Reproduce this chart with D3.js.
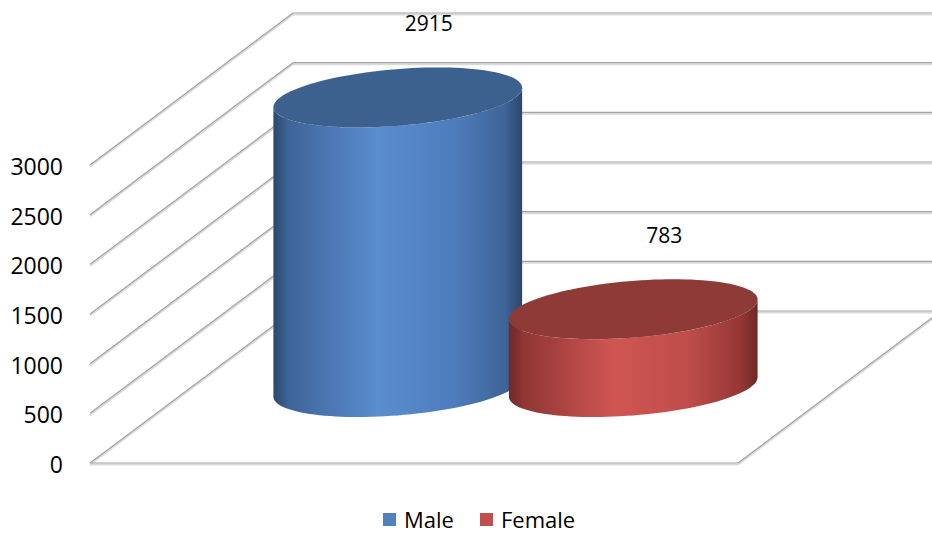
<!DOCTYPE html>
<html>
<head>
<meta charset="utf-8">
<script src="https://cdn.jsdelivr.net/npm/d3@7"></script>
<style>
  body { margin: 0; background: #fff; }
  svg { display: block; font-family: "Open Sans", "Noto Sans", sans-serif; }
</style>
</head>
<body>
<script>
// chart data
const series = ['Male', 'Female'];
const values = [2915, 783];
const yTicks = [0, 500, 1000, 1500, 2000, 2500, 3000];

const sideStops = [
  ['#2c476c', '#3e6499', '#5a8dcf', '#4e7dbc', '#3f6599', '#2b456a'],
  ['#6e2a29', '#903634', '#cf5552', '#bf4d4a', '#953735', '#6c2927']
];
const topColors = ['#3d618e', '#8e3a37'];
const legendColors = ['#4f81bd', '#c0504d'];

const W = 932, H = 533;
const svg = d3.select('body').append('svg').attr('width', W).attr('height', H);

// oblique 3D: depth runs up and to the right
const depthX = 203, depthY = -152;
const floor = { left: 90, right: 738, front: 463 };

const y = d3.scaleLinear().domain([0, 3000]).range([463, 165]);
const x = d3.scaleBand().domain(series).range([floor.left, floor.right])
  .paddingInner(0).paddingOuter(0.376);

// helper for double grey lines
function gline(x1, y1, x2, y2) {
  svg.append('line').attr('x1', x1).attr('y1', y1 + 1.5).attr('x2', x2).attr('y2', y2 + 1.5)
    .attr('stroke', '#dadada').attr('stroke-width', 2);
  svg.append('line').attr('x1', x1).attr('y1', y1).attr('x2', x2).attr('y2', y2)
    .attr('stroke', '#a3a3a3').attr('stroke-width', 1.2);
}

// back wall gridlines + side wall diagonals
yTicks.forEach(v => {
  gline(floor.left + depthX, y(v) + depthY, W + 10, y(v) + depthY);
});
yTicks.forEach(v => {
  gline(floor.left, y(v), floor.left + depthX, y(v) + depthY);
});
// floor
gline(floor.left, floor.front, floor.right, floor.front);
gline(floor.right, floor.front, floor.right + depthX, floor.front + depthY);

// y axis labels
svg.selectAll('.ytick').data(yTicks).enter().append('text')
  .attr('class', 'ytick')
  .attr('x', 63).attr('y', d => y(d) + 4)
  .attr('text-anchor', 'end').attr('dominant-baseline', 'middle')
  .attr('font-size', 23).attr('fill', '#000')
  .text(d => d);

// gradients
const defs = svg.append('defs');
series.forEach((s, i) => {
  const g = defs.append('linearGradient').attr('id', 'side' + i)
    .attr('x1', 0).attr('x2', 1).attr('y1', 0).attr('y2', 0);
  const offs = [0, 0.06, 0.42, 0.72, 0.93, 1];
  sideStops[i].forEach((c, k) => g.append('stop').attr('offset', offs[k]).attr('stop-color', c));
});

// cylinders
const R = x.bandwidth() / 2;
const rz = 30 / -depthY;           // depth radius as fraction of depth
const p = depthX * rz, q = -depthY * rz;
const thR = Math.atan2(p, R);

function pt(cx, cy, th) {
  return [cx + R * Math.cos(th) + p * Math.sin(th), cy - q * Math.sin(th)];
}

series.forEach((s, i) => {
  const cx = x(s) + R + depthX / 2;
  const yTop = y(values[i]) + depthY / 2;
  const yBot = y(0) + depthY / 2;
  const n = 60;
  const front = d3.range(n + 1).map(k => thR + Math.PI + Math.PI * k / n);
  const bottom = front.map(t => pt(cx, yBot, t));
  const top = front.map(t => pt(cx, yTop, t)).reverse();
  const body = d3.line()(bottom.concat(top)) + 'Z';
  svg.append('path').attr('d', body).attr('fill', `url(#side${i})`);

  const ring = d3.range(121).map(k => pt(cx, yTop, 2 * Math.PI * k / 120));
  svg.append('path').attr('d', d3.line()(ring) + 'Z').attr('fill', topColors[i]);

  svg.append('text')
    .attr('x', cx + 31).attr('y', yTop - 72)
    .attr('text-anchor', 'middle').attr('dominant-baseline', 'middle')
    .attr('font-size', 21).attr('fill', '#000')
    .text(values[i]);
});

// legend
const legend = svg.append('g').attr('transform', 'translate(383,513)');
const lx = [0, 97];
series.forEach((s, i) => {
  legend.append('rect').attr('x', lx[i]).attr('y', 0).attr('width', 13).attr('height', 13)
    .attr('fill', legendColors[i]);
  legend.append('text').attr('x', lx[i] + 21).attr('y', 9)
    .attr('dominant-baseline', 'middle').attr('font-size', 22).attr('fill', '#000')
    .text(s);
});
</script>
</body>
</html>
